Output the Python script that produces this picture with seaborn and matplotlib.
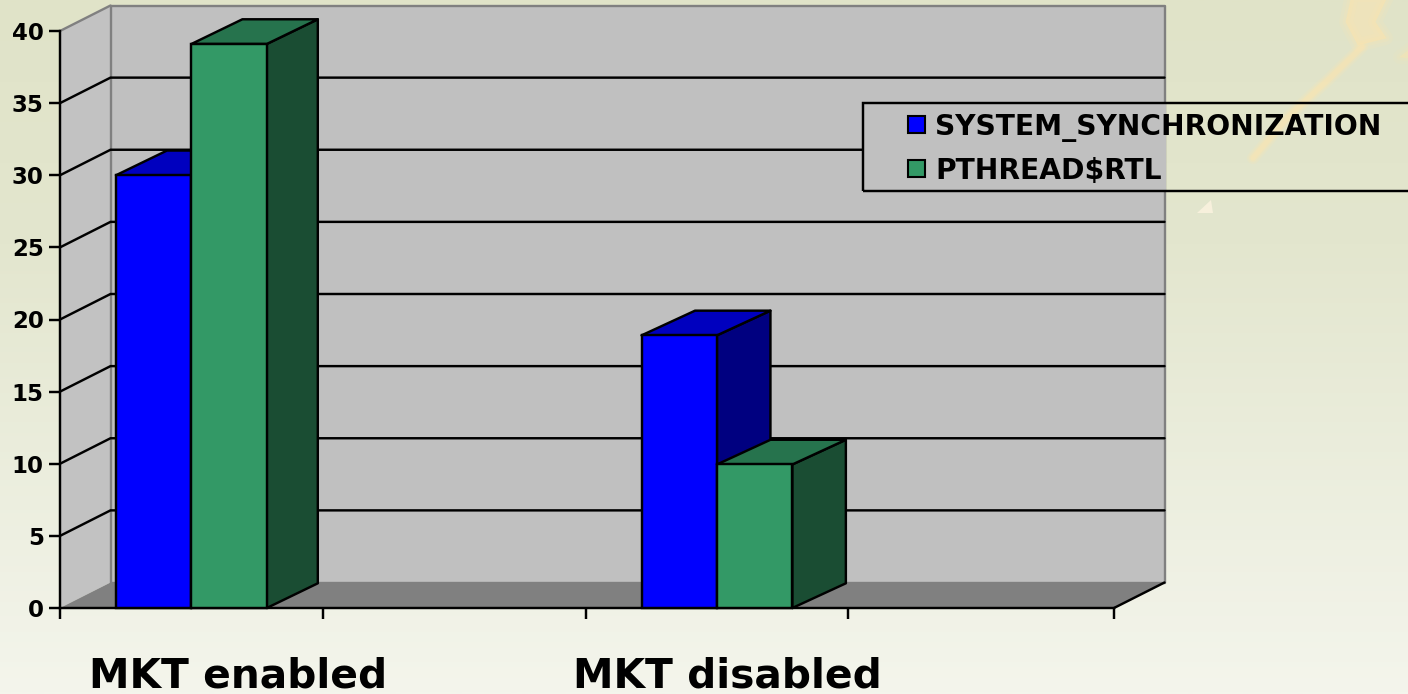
import numpy as np
import pandas as pd
import matplotlib
matplotlib.use("Agg")
import matplotlib.pyplot as plt
from matplotlib.patches import Polygon, Rectangle
from matplotlib.colors import LinearSegmentedColormap
import seaborn as sns

# ---- data ----
categories = ["MKT enabled", " ", "MKT disabled", "  "]
series_names = ["SYSTEM_SYNCHRONIZATION", "PTHREAD$RTL"]
system_sync = [30, np.nan, 18.9, np.nan]
pthread_rtl = [39.1, np.nan, 9.95, np.nan]
y_ticks = [0, 5, 10, 15, 20, 25, 30, 35, 40]

# ---- style ----
W, H = 1408, 694
FONT = "DejaVu Sans"
BLACK_LW = 1.75
sns.set_theme(style="white")
plt.rcParams["font.family"] = [FONT]
plt.rcParams["font.weight"] = "bold"

front = {"SYSTEM_SYNCHRONIZATION": "#0000FF", "PTHREAD$RTL": "#339966"}
top = {"SYSTEM_SYNCHRONIZATION": "#0000BF", "PTHREAD$RTL": "#26734D"}
side = {"SYSTEM_SYNCHRONIZATION": "#000080", "PTHREAD$RTL": "#1A4D33"}

fig = plt.figure(figsize=(W / 100, H / 100), dpi=100)

# background
bg = fig.add_axes([0, 0, 1, 1], zorder=0)
bg.set_xlim(0, W)
bg.set_ylim(H, 0)
bg.axis("off")
cmap = LinearSegmentedColormap.from_list(
    "bg", [(0, "#E0E3C8"), (0.35, "#E3E6CE"), (0.78, "#EEF0E2"), (1, "#F4F5EC")])
bg.imshow(np.linspace(0, 1, 512)[:, None], cmap=cmap, aspect="auto", extent=[0, W, H, 0])
glow = "#FCE4B0"
for lw, a in [(12, 0.2), (8, 0.3), (5, 0.4)]:
    bg.plot([1253, 1290, 1330, 1362], [158, 115, 78, 47], color=glow, lw=lw * 0.72, alpha=a,
            solid_capstyle="round")
for grow, a in [(10, 0.15), (5, 0.2), (1, 0.3)]:
    bg.add_patch(Polygon([[1352, -5], [1346, 22], [1358, 45], [1386, 38], [1375, 22], [1388, -5]],
                         facecolor=glow, edgecolor=glow, linewidth=grow, alpha=a, joinstyle="round"))
    bg.add_patch(Polygon([[1400, 57], [1412, 48], [1412, 58]], facecolor=glow, edgecolor=glow,
                         linewidth=grow, alpha=a * 0.7, joinstyle="round"))
bg.add_patch(Polygon([[1197, 213], [1213, 213], [1211, 200]], color="#F7F0DC", lw=0))

# plot axes: pixels 60..1114 horizontally, 608..31 vertically
ax = fig.add_axes([60 / W, 1 - 608 / H, (1114 - 60) / W, (608 - 31) / H], zorder=1)
ax.patch.set_alpha(0)

df = pd.DataFrame({
    "category": categories * 2,
    "series": [series_names[0]] * 4 + [series_names[1]] * 4,
    "value": system_sync + pthread_rtl,
})
sns.barplot(data=df, x="category", y="value", hue="series", order=categories,
            hue_order=series_names, palette=front, width=0.574, gap=0,
            edgecolor="black", linewidth=BLACK_LW, saturation=1, ax=ax, legend=False)
ax.set_xlim(-0.5, 3.511)
ax.set_ylim(0, 40)
ax.set_xlabel("")
ax.set_ylabel("")

# depth of the pseudo-3D in data units
x0, x1 = ax.get_xlim()
ux = (x1 - x0) / (1114 - 60)   # data per px horizontally
uy = 40 / (608 - 31)           # data per px vertically
wall_dx, wall_dy = 50.5 * ux, 25.5 * uy
bar_dy = 24.7 * uy
ymax = y_ticks[-1]


def poly(pts, fc, ec="none", lw=0, z=1):
    ax.add_patch(Polygon(pts, closed=True, facecolor=fc, edgecolor=ec, linewidth=lw,
                         zorder=z, clip_on=False, joinstyle="round"))


# walls and floor
poly([[x0, 0], [x0 + wall_dx, wall_dy], [x0 + wall_dx, ymax + wall_dy], [x0, ymax]], "#C2C2C2", z=0.5)
poly([[x0 + wall_dx, wall_dy], [x1 + wall_dx, wall_dy], [x1 + wall_dx, ymax + wall_dy],
      [x0 + wall_dx, ymax + wall_dy]], "#C0C0C0", "#808080", 1.7, z=0.6)
poly([[x0, 0], [x1, 0], [x1 + wall_dx, wall_dy], [x0 + wall_dx, wall_dy]], "#808080", z=0.7)
ax.plot([x0, x0 + wall_dx], [ymax, ymax + wall_dy], color="#808080", lw=1.7, zorder=0.8, clip_on=False)

# gridlines on walls
for v in y_ticks[1:-1]:
    ax.plot([x0, x0 + wall_dx, x1 + wall_dx], [v, v + wall_dy, v + wall_dy],
            color="black", lw=BLACK_LW, zorder=0.9, clip_on=False, solid_joinstyle="miter")

# front axis lines
ax.plot([x1, x1 + wall_dx], [0, wall_dy], color="black", lw=BLACK_LW, zorder=0.95, clip_on=False)
for s in ["top", "right"]:
    ax.spines[s].set_visible(False)
for s in ["left", "bottom"]:
    ax.spines[s].set_visible(True)
    ax.spines[s].set_color("black")
    ax.spines[s].set_linewidth(BLACK_LW)
    ax.spines[s].set_zorder(0.95)

# depth faces of each bar, from the bars seaborn drew (slightly deeper further right)
bars = [p for c in ax.containers for p in c]
ranked = sorted(bars, key=lambda b: b.get_x())
for rank, p in enumerate(ranked):
    h = p.get_height()
    if not np.isfinite(h) or h == 0:
        continue
    c = p.get_facecolor()
    key = series_names[0] if c[2] > 0.9 else series_names[1]
    xl, xr = p.get_x(), p.get_x() + p.get_width()
    bar_dx = (53.5 if xl > 1 else 51) * ux
    z = 2 + rank
    poly([[xr, 0], [xr + bar_dx, bar_dy], [xr + bar_dx, h + bar_dy], [xr, h]], side[key], "black", BLACK_LW, z)
    poly([[xl, h], [xr, h], [xr + bar_dx, h + bar_dy], [xl + bar_dx, h + bar_dy]], top[key], "black", BLACK_LW, z)
    p.set_zorder(z + 0.5)
    p.set_clip_on(False)

# ticks
ax.set_yticks(y_ticks)
ax.set_xticks([-0.5, 0.5, 1.5, 2.5, x1])
ax.set_xticklabels([])
ax.tick_params(axis="both", which="major", direction="out", length=8, width=BLACK_LW,
               color="black", left=True, bottom=True, pad=3.7)
ax.tick_params(axis="y", labelsize=16.5, labelcolor="#000000")
for t in ax.get_yticklabels():
    t.set_fontweight("bold")

# category labels (free text boxes under the slots)
fig.text(238.5 / W, 1 - 687 / H, categories[0], ha="center", va="baseline", fontsize=29.3,
         fontweight="bold", color="black")
fig.text(727.5 / W, 1 - 687 / H, categories[2], ha="center", va="baseline", fontsize=29.3,
         fontweight="bold", color="black")

# legend: opaque over the wall lines, box runs off the right edge of the picture
ax.add_patch(Rectangle((863, H - 190), 1166 - 863, 87, transform=None, facecolor="#C0C0C0",
                       edgecolor="none", zorder=1.5, clip_on=False))
fig.add_artist(Rectangle((863 / W, 1 - 190.5 / H), 700 / W, 88 / H, transform=fig.transFigure,
                         facecolor="none", edgecolor="black", linewidth=BLACK_LW, zorder=6))
handles = [Rectangle((0, 0), 1, 1, facecolor=front[s], edgecolor="black", linewidth=1.5) for s in series_names]
leg = fig.legend(handles, series_names, loc="upper left", bbox_to_anchor=(907.5 / W, 1 - 112.5 / H),
                 frameon=False, handlelength=0.62, handleheight=0.53, handletextpad=0.36,
                 labelspacing=0.54, borderpad=0, borderaxespad=0, labelcolor="black",
                 prop={"weight": "bold", "size": 20.22, "family": FONT})
leg.set_zorder(7)

fig.savefig("out.png", dpi=100)
